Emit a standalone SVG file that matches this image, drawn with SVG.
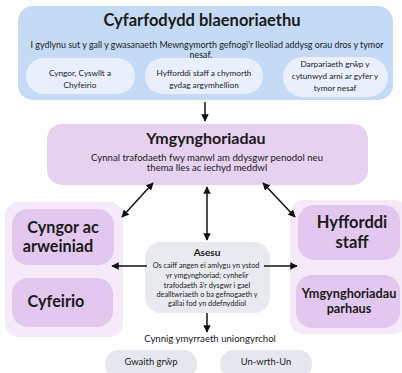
<svg xmlns="http://www.w3.org/2000/svg" width="402" height="373" viewBox="0 0 402 373">
<defs>
<style>
text{font-family:Lato,"Liberation Sans",sans-serif;fill:#1a1a1a;text-anchor:middle}
.h{font-weight:bold}
.b{font-size:8.9px}
.p{font-size:8.2px}
.c{stroke:#111;stroke-width:1.5;fill:none}
</style>
<marker id="ah" viewBox="0 0 10 10" refX="9" refY="5" markerWidth="5" markerHeight="5" orient="auto-start-reverse">
<path d="M0,0 L10,5 L0,10 z" fill="#111"/>
</marker>
</defs>
<rect width="402" height="373" fill="#ffffff"/>

<g id="blaenoriaethu">
<rect x="18" y="6" width="375" height="94" rx="15" fill="#c5daf5"/>
<text x="202" y="25.5" class="h" font-size="16.5">Cyfarfodydd blaenoriaethu</text>
<text x="207" y="47.5" class="b">I gydlynu sut y gall y gwasanaeth Mewngymorth gefnogi'r lleoliad addysg orau dros y tymor</text>
<text x="201" y="57.5" class="b">nesaf.</text>
</g>
<g id="pill-cyngor">
<rect x="26" y="58" width="109" height="36" rx="18" fill="#e9effc"/>
<text x="80" y="76" class="p">Cyngor, Cyswllt a</text>
<text x="80" y="88" class="p">Chyfeirio</text>
</g>
<g id="pill-hyfforddi">
<rect x="145" y="58" width="118" height="36" rx="18" fill="#e9effc"/>
<text x="204" y="76" class="p">Hyfforddi staff a chymorth</text>
<text x="204" y="88" class="p">gydag argymhellion</text>
</g>
<g id="pill-darpariaeth">
<rect x="283" y="57" width="105" height="40" rx="20" fill="#e9effc"/>
<text x="335" y="67" class="p">Darpariaeth grŵp y</text>
<text x="335" y="79" class="p">cytunwyd arni ar gyfer y</text>
<text x="335" y="91" class="p">tymor nesaf</text>
</g>

<g id="ymgynghoriadau">
<rect x="47" y="124" width="321" height="61" rx="15" fill="#e6d1ef"/>
<text x="206" y="144" class="h" font-size="16">Ymgynghoriadau</text>
<text x="207" y="160.5" font-size="9.6">Cynnal trafodaeth fwy manwl am ddysgwr penodol neu</text>
<text x="207" y="171" font-size="9.6">thema lles ac iechyd meddwl</text>
</g>

<g id="panel-left">
<rect x="5" y="202" width="118" height="135" rx="14" fill="#f4eaf8"/>
</g>
<g id="cyngor-ac-arweiniad">
<rect x="12" y="209" width="102" height="56" rx="16" fill="#e2c7ee"/>
<text x="63" y="233" class="h" font-size="16.2">Cyngor ac</text>
<text x="58" y="252" class="h" font-size="16.2">arweiniad</text>
</g>
<g id="cyfeirio">
<rect x="12" y="278" width="101" height="49" rx="16" fill="#e2c7ee"/>
<text x="56" y="307" class="h" font-size="16.2">Cyfeirio</text>
</g>

<g id="panel-right">
<rect x="290" y="200" width="118" height="134" rx="14" fill="#f4eaf8"/>
</g>
<g id="hyfforddi-staff">
<rect x="298" y="205" width="102" height="55" rx="16" fill="#e2c7ee"/>
<text x="352" y="228" class="h" font-size="16.5">Hyfforddi</text>
<text x="352" y="248" class="h" font-size="16.5">staff</text>
</g>
<g id="ymgynghoriadau-parhaus">
<rect x="296" y="275" width="104" height="53" rx="16" fill="#e2c7ee"/>
<text x="349" y="298" class="h" font-size="12.7">Ymgynghoriadau</text>
<text x="349" y="313" class="h" font-size="12.7">parhaus</text>
</g>

<g id="asesu">
<rect x="145" y="242" width="125" height="71" rx="16" fill="#e7eaef"/>
<text x="207" y="256" class="h" font-size="10">Asesu</text>
<text x="206" y="268" font-size="7.3">Os caiff angen ei amlygu yn ystod</text>
<text x="207" y="278" font-size="7.3">yr ymgynghoriad; cynhelir</text>
<text x="207" y="287.5" font-size="7.3">trafodaeth â'r dysgwr i gael</text>
<text x="207" y="296.5" font-size="7.3">dealltwriaeth o ba gefnogaeth y</text>
<text x="207" y="305.5" font-size="7.3">gallai fod yn ddefnyddiol</text>
</g>

<g id="cynnig">
<text x="210" y="342" font-size="9.6">Cynnig ymyrraeth uniongyrchol</text>
</g>
<g id="gwaith-grwp">
<rect x="105" y="350" width="92" height="28" rx="14" fill="#e4e7ed"/>
<text x="151" y="365" font-size="9.4">Gwaith grŵp</text>
</g>
<g id="un-wrth-un">
<rect x="220" y="350" width="92" height="28" rx="14" fill="#e4e7ed"/>
<text x="266" y="365" font-size="9.4">Un-wrth-Un</text>
</g>

<g id="connectors">
<line class="c" x1="205" y1="102" x2="205" y2="121" marker-end="url(#ah)"/>
<line class="c" x1="153" y1="183" x2="122" y2="217" marker-start="url(#ah)" marker-end="url(#ah)"/>
<line class="c" x1="263" y1="183" x2="295" y2="217" marker-start="url(#ah)" marker-end="url(#ah)"/>
<line class="c" x1="207" y1="187" x2="207" y2="240" marker-start="url(#ah)" marker-end="url(#ah)"/>
<line class="c" x1="147" y1="266" x2="112" y2="266" marker-end="url(#ah)"/>
<line class="c" x1="264" y1="266" x2="297" y2="266" marker-end="url(#ah)"/>
<line class="c" x1="207" y1="313" x2="207" y2="332" marker-end="url(#ah)"/>
</g>
</svg>
